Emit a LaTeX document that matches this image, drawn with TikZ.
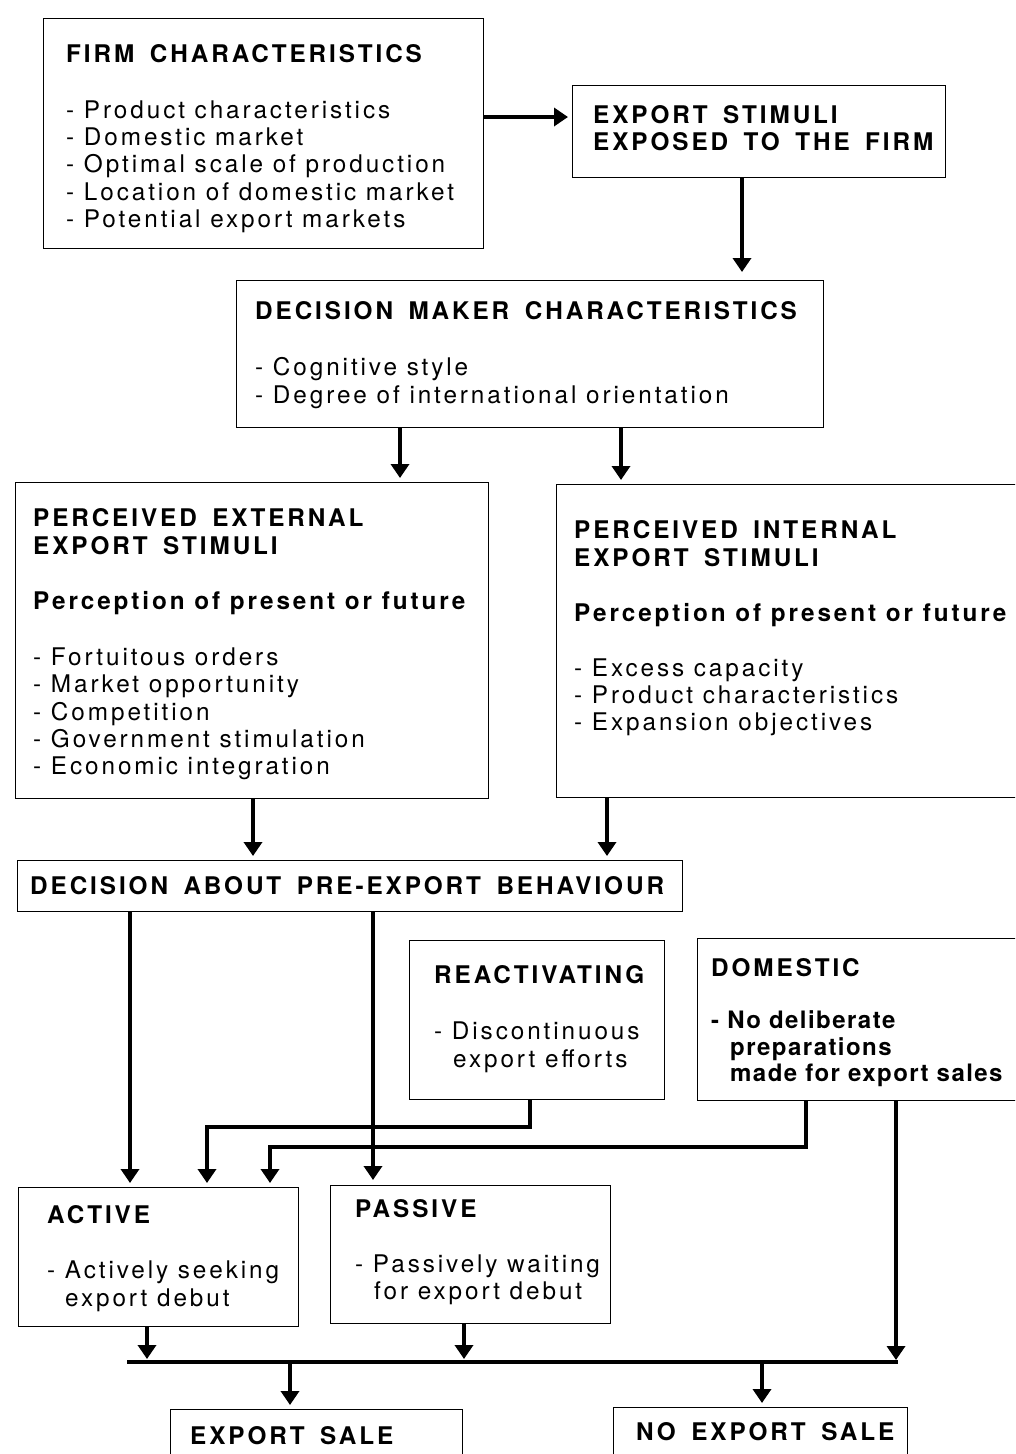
\documentclass[tikz,border=0pt]{standalone}
\usepackage{fontspec}
\setmainfont{TeX Gyre Heros}[LetterSpace=12]
\newfontfamily\hdfont{TeX Gyre Heros}[LetterSpace=12, WordSpace=1.6]
\newfontfamily\domfont{TeX Gyre Heros}[LetterSpace=6]
\usetikzlibrary{arrows.meta}
\begin{document}
\begin{tikzpicture}[x=1pt,y=-1pt,
  box/.style={draw, line width=1.4pt, inner sep=0pt, anchor=north west},
  txt/.style={anchor=base west, inner sep=0pt, font=\fontsize{24.3}{28}\selectfont},
  hd/.style={anchor=base west, inner sep=0pt, font=\fontsize{24.3}{28}\selectfont\hdfont\bfseries},
  hdp/.style={anchor=base west, inner sep=0pt, font=\fontsize{24.3}{28}\selectfont\bfseries},
  dhd/.style={anchor=base west, inner sep=0pt, font=\fontsize{24}{28}\selectfont\domfont\bfseries},
  arr/.style={line width=3.6pt, -{Triangle[width=18pt,length=14pt]}, shorten >=4pt},
  bar/.style={line width=4.5pt}]
\useasboundingbox (0,0) rectangle (1015,1454);
\fill[white] (0,0) rectangle (1015,1454);
\clip (0,0) rectangle (1015,1454);

% boxes
\node[box, minimum width=440pt, minimum height=230pt] (firm) at (43,18) {};
\node[box, minimum width=373pt, minimum height=92pt] (stim) at (572,85) {};
\node[box, minimum width=587pt, minimum height=147pt] (dm) at (236,280) {};
\node[box, minimum width=473pt, minimum height=316pt] (ext) at (15,482) {};
\node[box, minimum width=470pt, minimum height=313pt] (int) at (556,484) {};
\node[box, minimum width=665pt, minimum height=51pt] (dec) at (17,860) {};
\node[box, minimum width=255pt, minimum height=159pt] (react) at (409,940) {};
\node[box, minimum width=330pt, minimum height=162pt] (dom) at (697,938) {};
\node[box, minimum width=280pt, minimum height=139pt] (active) at (18,1187) {};
\node[box, minimum width=280pt, minimum height=138pt] (passive) at (330,1185) {};
\node[box, minimum width=292pt, minimum height=60pt] (esale) at (170,1409) {};
\node[box, minimum width=294pt, minimum height=60pt] (nsale) at (613,1407) {};

% texts
\node[hd] (firmT) at (66,62) {FIRM CHARACTERISTICS};
\foreach \t [count=\i] in {Product characteristics, Domestic market, Optimal scale of production, Location of domestic market, Potential export markets}
  \node[txt] (firm\i) at (66,{91.3+27.2*\i}) {- \t};

\node[hd] (stimT1) at (593,123.5) {EXPORT STIMULI};
\node[hd] (stimT2) at (593,150.5) {EXPOSED TO THE FIRM};

\node[hd] (dmT) at (255,319.5) {DECISION MAKER CHARACTERISTICS};
\node[txt] (dm1) at (255,375.5) {- Cognitive style};
\node[txt] (dm2) at (255,403.5) {- Degree of international orientation};

\node[hd] (extT1) at (33,526.5) {PERCEIVED EXTERNAL};
\node[hd] (extT2) at (33,554.5) {EXPORT STIMULI};
\node[hdp] (extP) at (33,609.5) {Perception of present or future};
\foreach \t [count=\i] in {Fortuitous orders, Market opportunity, Competition, Government stimulation, Economic integration}
  \node[txt] (ext\i) at (33,{638.2+27.3*\i}) {- \t};

\node[hd] (intT1) at (574,538.5) {PERCEIVED INTERNAL};
\node[hd] (intT2) at (574,566.5) {EXPORT STIMULI};
\node[hdp] (intP) at (574,621.5) {Perception of present or future};
\foreach \t [count=\i] in {Excess capacity, Product characteristics, Expansion objectives}
  \node[txt] (int\i) at (574,{649.5+27*\i}) {- \t};

\node[hd] (decT) at (30,894.5) {DECISION ABOUT PRE-EXPORT BEHAVIOUR};

\node[hd] (reactT) at (434,983.5) {REACTIVATING};
\node[txt] (react1) at (434,1039.5) {- Discontinuous};
\node[txt] (react2) at (453,1067.5) {export efforts};

\node[hd] (domT) at (711,976.5) {DOMESTIC};
\node[dhd] (dom1) at (711,1028.5) {- No deliberate};
\node[dhd] (dom2) at (730,1055.5) {preparations};
\node[dhd] (dom3) at (730,1081.5) {made for export sales};

\node[hd] (activeT) at (47,1223.5) {ACTIVE};
\node[txt] (active1) at (47,1278.5) {- Actively seeking};
\node[txt] (active2) at (65,1306.5) {export debut};

\node[hd] (passiveT) at (355,1217.5) {PASSIVE};
\node[txt] (passive1) at (355,1272.5) {- Passively waiting};
\node[txt] (passive2) at (374,1299.5) {for export debut};

\node[hd] (esaleT) at (190,1444.5) {EXPORT SALE};
\node[hd] (nsaleT) at (636,1440.5) {NO EXPORT SALE};

% connectors
\coordinate (r1) at (207,1127);
\coordinate (d1) at (270,1147);
\coordinate (barL) at (127,1362);
\coordinate (barR) at (898,1362);

\draw[arr] (firm.east |- 0,117) -- (stim.west |- 0,117);
\draw[arr, shorten >=8pt] (stim.south -| 742,0) -- (dm.north -| 742,0);
\draw[arr] (dm.south -| 400,0) -- (ext.north -| 400,0);
\draw[arr] (dm.south -| 621,0) -- (int.north -| 621,0);
\draw[arr] (ext.south -| 253,0) -- (dec.north -| 253,0);
\draw[arr] (int.south -| 607,0) -- (dec.north -| 607,0);
\draw[arr] (dec.south -| 130,0) -- (active.north -| 130,0);
\draw[arr, shorten >=5pt] (dec.south -| 373,0) -- (passive.north -| 373,0);
\draw[arr] (react.south -| 530,0) |- (r1) -- (active.north -| r1);
\draw[arr] (dom.south -| 806,0) |- (d1) -- (active.north -| d1);
\draw[arr, shorten >=2pt] (dom.south -| 896,0) -- (barR -| 896,0);
\draw[arr, shorten >=3pt] (active.south -| 147,0) -- (barL -| 147,0);
\draw[arr, shorten >=3pt] (passive.south -| 464,0) -- (barL -| 464,0);
\draw[bar] (barL) -- (barR);
\draw[arr] (barL -| 290,0) -- (esale.north -| 290,0);
\draw[arr] (barL -| 762,0) -- (nsale.north -| 762,0);
\end{tikzpicture}
\end{document}
